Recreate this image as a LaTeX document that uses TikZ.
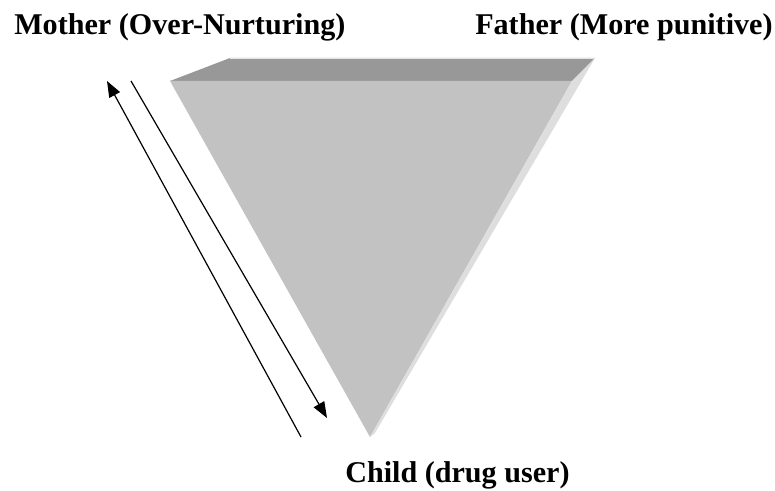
\documentclass[tikz,border=0pt]{standalone}
\usepackage{fontspec}
\setmainfont{Liberation Serif}
\usetikzlibrary{arrows.meta}

\definecolor{topface}{RGB}{152,152,152}
\definecolor{frontface}{RGB}{194,194,194}
\definecolor{sideface}{RGB}{222,222,222}

\begin{document}
\begin{tikzpicture}[x=0.75pt,y=-0.75pt,
  every node/.style={font=\bfseries\fontsize{22.6}{25}\selectfont,inner sep=0pt},
  flow/.style={line width=0.9pt,-{Triangle[length=12pt,width=9pt]}}]
 \useasboundingbox (0,0) rectangle (775,491);
 % the three roles
 \node[anchor=base west] (mother) at (14,35) {Mother (Over-Nurturing)};
 \node[anchor=base west] (father) at (475,35) {Father (More punitive)};
 \node[anchor=base west] (child) at (345,483) {Child (drug user)};
 % shaded triangle
 \fill[topface] (170,81)--(230,58)--(595,58)--(572,81)--cycle;
 \draw[white!80!gray,line width=0.6pt] (230,58)--(595,58);
 \fill[frontface] (170,81)--(572,81)--(370,437)--cycle;
 \fill[sideface] (572,81)--(595,58)--(375,433)--(370,437)--cycle;
 % arrows beside the triangle
 \coordinate (upfrom) at (301,437);
 \coordinate (upto) at (107,81);
 \coordinate (downfrom) at (131,81);
 \coordinate (downto) at (327,418);
 \draw[flow] (upfrom)--(upto);
 \draw[flow] (downfrom)--(downto);
\end{tikzpicture}
\end{document}
